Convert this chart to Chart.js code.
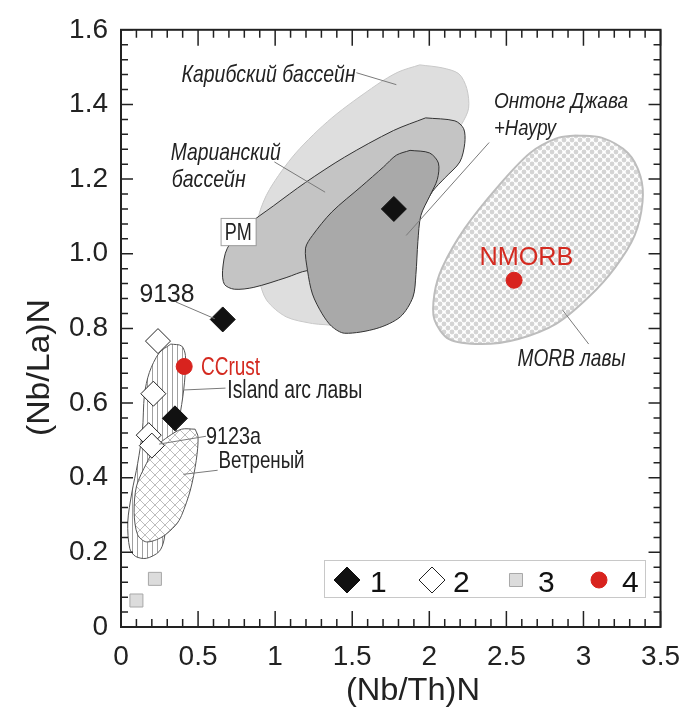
<!DOCTYPE html>
<html>
<head>
<meta charset="utf-8">
<script src="https://cdn.jsdelivr.net/npm/chart.js@4.4.1/dist/chart.umd.min.js"></script>
<style>
  html, body { margin: 0; padding: 0; background: #fff; }
  canvas { display: block; }
</style>
</head>
<body>
<canvas id="c" width="693" height="711"></canvas>
<script>
// ---------- DATA ----------
const xTickLabels = ['0', '0.5', '1', '1.5', '2', '2.5', '3', '3.5'];
const yTickLabels = ['0', '0.2', '0.4', '0.6', '0.8', '1.0', '1.2', '1.4', '1.6'];
const legendLabels = ['1', '2', '3', '4'];

// series 1 (filled diamonds)
const s1X = [0.66, 1.77, 0.35];
const s1Y = [0.824, 1.12, 0.559];
// series 2 (open diamonds)
const s2X = [0.24, 0.21, 0.18, 0.20];
const s2Y = [0.766, 0.625, 0.514, 0.486];
// series 3 (grey squares)
const s3X = [0.22, 0.10];
const s3Y = [0.129, 0.071];
// series 4 (red circles: CCrust, NMORB)
const s4X = [0.41, 2.55];
const s4Y = [0.698, 0.929];

// field outlines (traced)
const caribX = [1.938, 2.084, 2.192, 2.243, 2.255, 2.211, 2.097, 1.989, 1.907, 1.869, 1.818, 1.704, 1.527, 1.324, 1.242, 1.071, 0.944, 0.893, 0.868, 0.893, 0.963, 1.134, 1.368, 1.660, 1.799, 1.938];
const caribY = [1.506, 1.498, 1.482, 1.443, 1.390, 1.348, 1.277, 1.186, 1.094, 0.989, 0.897, 0.831, 0.803, 0.810, 0.813, 0.831, 0.876, 0.936, 1.015, 1.102, 1.172, 1.270, 1.364, 1.453, 1.487, 1.506];

const marX = [1.976, 2.166, 2.223, 2.230, 2.198, 2.103, 2.021, 1.894, 1.704, 1.451, 1.210, 1.071, 0.862, 0.735, 0.671, 0.659, 0.690, 0.817, 0.988, 1.197, 1.451, 1.767, 1.976];
const marY = [1.364, 1.356, 1.335, 1.296, 1.246, 1.204, 1.167, 1.081, 0.989, 0.957, 0.955, 0.936, 0.910, 0.905, 0.918, 0.955, 1.015, 1.075, 1.128, 1.191, 1.259, 1.330, 1.364];

const ontX = [1.875, 2.002, 2.059, 2.052, 2.002, 1.945, 1.926, 1.913, 1.894, 1.812, 1.660, 1.451, 1.368, 1.305, 1.242, 1.210, 1.197, 1.242, 1.368, 1.558, 1.704, 1.786, 1.875];
const ontY = [1.277, 1.270, 1.243, 1.199, 1.154, 1.102, 1.033, 0.944, 0.884, 0.831, 0.800, 0.787, 0.805, 0.839, 0.892, 0.955, 1.015, 1.049, 1.112, 1.180, 1.233, 1.264, 1.277];

const morbX = [2.952, 3.117, 3.288, 3.370, 3.383, 3.332, 3.205, 3.034, 2.825, 2.572, 2.338, 2.128, 2.033, 2.033, 2.084, 2.230, 2.445, 2.654, 2.825, 2.952];
const morbY = [1.317, 1.311, 1.270, 1.207, 1.138, 1.049, 0.963, 0.884, 0.813, 0.771, 0.758, 0.771, 0.824, 0.892, 0.963, 1.068, 1.180, 1.270, 1.309, 1.317];

const arcX = [0.323, 0.393, 0.418, 0.412, 0.386, 0.361, 0.342, 0.310, 0.279, 0.247, 0.165, 0.095, 0.057, 0.044, 0.070, 0.108, 0.139, 0.152, 0.184, 0.247, 0.323];
const arcY = [0.758, 0.753, 0.727, 0.656, 0.577, 0.535, 0.464, 0.333, 0.233, 0.202, 0.184, 0.189, 0.210, 0.281, 0.359, 0.438, 0.525, 0.622, 0.682, 0.734, 0.758];

const vetX = [0.481, 0.500, 0.488, 0.450, 0.393, 0.355, 0.266, 0.165, 0.108, 0.085, 0.101, 0.165, 0.228, 0.310, 0.393, 0.481];
const vetY = [0.530, 0.509, 0.446, 0.367, 0.299, 0.273, 0.241, 0.228, 0.247, 0.307, 0.378, 0.438, 0.483, 0.511, 0.530, 0.530];

// ---------- helpers ----------
const zip = (xs, ys) => xs.map((x, i) => ({ x, y: ys[i] }));
const FONT = "'Liberation Sans', Arial, sans-serif";

function makePattern(kind) {
  const c = document.createElement('canvas');
  const g = c.getContext('2d');
  if (kind === 'dots') {
    c.width = 8; c.height = 8;
    g.fillStyle = '#fff'; g.fillRect(0, 0, 8, 8);
    g.fillStyle = '#d4d4d4';
    [[0, 0], [8, 0], [0, 8], [8, 8], [4, 4]].forEach(([x, y]) => {
      g.beginPath(); g.arc(x, y, 2.4, 0, Math.PI * 2); g.fill();
    });
  } else if (kind === 'vlines') {
    c.width = 5; c.height = 5;
    g.fillStyle = '#fff'; g.fillRect(0, 0, 5, 5);
    g.fillStyle = '#a0a0a0'; g.fillRect(2, 0, 1, 5);
  } else {
    c.width = 10; c.height = 10;
    g.fillStyle = '#fff'; g.fillRect(0, 0, 10, 10);
    g.strokeStyle = '#bdbdbd'; g.lineWidth = 1;
    g.beginPath(); g.moveTo(0, 0); g.lineTo(10, 10); g.moveTo(10, 0); g.lineTo(0, 10); g.stroke();
  }
  return g.createPattern(c, 'repeat');
}

function field(label, xs, ys, bg, border, bw, order) {
  return {
    type: 'line', label, data: zip(xs, ys), order,
    backgroundColor: bg, borderColor: border, borderWidth: bw,
    fill: 'shape', tension: 0.3, pointRadius: 0, pointHoverRadius: 0
  };
}

const ann = [
  { t: 'Карибский бассейн', x: 0.393, y: 1.461, f: 'italic 24px', c: '#222', w: 174 },
  { t: 'Марианский', x: 0.323, y: 1.251, f: 'italic 24px', c: '#222', w: 110 },
  { t: 'бассейн', x: 0.329, y: 1.180, f: 'italic 24px', c: '#222', w: 74 },
  { t: 'Онтонг Джава', x: 2.420, y: 1.390, f: 'italic 22px', c: '#222', w: 134 },
  { t: '+Науру', x: 2.420, y: 1.319, f: 'italic 22px', c: '#222', w: 62 },
  { t: 'NMORB', x: 2.325, y: 0.970, f: '26px', c: '#d42a20', w: 94 },
  { t: 'MORB лавы', x: 2.572, y: 0.700, f: 'italic 24px', c: '#222', w: 108 },
  { t: '9138', x: 0.120, y: 0.871, f: '25px', c: '#222', w: 55 },
  { t: 'CCrust', x: 0.519, y: 0.674, f: '25px', c: '#d42a20', w: 59 },
  { t: 'Island arc лавы', x: 0.690, y: 0.614, f: '25px', c: '#222', w: 135 },
  { t: '9123a', x: 0.551, y: 0.490, f: '24px', c: '#222', w: 55 },
  { t: 'Ветреный', x: 0.633, y: 0.425, f: '24px', c: '#222', w: 86 }
];
const leaders = [
  [1.527, 1.485, 1.786, 1.453],
  [0.995, 1.246, 1.324, 1.165],
  [2.388, 1.298, 1.850, 1.049],
  [3.034, 0.758, 2.863, 0.850],
  [0.355, 0.871, 0.608, 0.826],
  [0.405, 0.635, 0.678, 0.640],
  [0.551, 0.511, 0.247, 0.490],
  [0.627, 0.420, 0.405, 0.409]
];
const pmBox = { t: 'PM', x0: 0.646, y0: 1.096, x1: 0.874, y1: 1.023 };

function fitText(ctx, text, x, y, font, color, width, align) {
  ctx.save();
  ctx.font = font + ' ' + FONT;
  const w = ctx.measureText(text).width;
  ctx.translate(x, y);
  ctx.scale(width / w, 1);
  ctx.fillStyle = color;
  ctx.textBaseline = 'alphabetic';
  ctx.textAlign = align || 'left';
  ctx.fillText(text, 0, 0);
  ctx.restore();
}

const decor = {
  id: 'decor',
  afterDatasetsDraw(chart) {
    const ctx = chart.ctx;
    const xs = chart.scales.x, ys = chart.scales.y;
    const a = chart.chartArea;
    const X = v => xs.getPixelForValue(v), Y = v => ys.getPixelForValue(v);

    // leader lines
    ctx.save();
    ctx.strokeStyle = '#7a7a7a'; ctx.lineWidth = 1;
    leaders.forEach(([x0, y0, x1, y1]) => {
      ctx.beginPath(); ctx.moveTo(X(x0), Y(y0)); ctx.lineTo(X(x1), Y(y1)); ctx.stroke();
    });
    ctx.restore();

    // annotations
    ann.forEach(o => fitText(ctx, o.t, X(o.x), Y(o.y), o.f, o.c, o.w));

    // PM box
    ctx.save();
    const bx0 = X(pmBox.x0), by0 = Y(pmBox.y0), bx1 = X(pmBox.x1), by1 = Y(pmBox.y1);
    ctx.fillStyle = '#fff'; ctx.fillRect(bx0, by0, bx1 - bx0, by1 - by0);
    ctx.strokeStyle = '#a0a0a0'; ctx.lineWidth = 1;
    ctx.strokeRect(bx0 + 0.5, by0 + 0.5, bx1 - bx0, by1 - by0);
    ctx.restore();
    fitText(ctx, pmBox.t, (bx0 + bx1) / 2, by1 - 5, '24px', '#222', 27, 'center');

    // frame + inward ticks on all four sides
    ctx.save();
    ctx.strokeStyle = '#222';
    ctx.lineWidth = 1.5;
    ctx.beginPath();
    for (let i = 0; i <= 35; i++) {
      const px = X(i / 10), len = i % 5 === 0 ? 16 : 8;
      ctx.moveTo(px, a.bottom); ctx.lineTo(px, a.bottom - len);
      ctx.moveTo(px, a.top); ctx.lineTo(px, a.top + len);
    }
    for (let i = 0; i <= 40; i++) {
      const py = Y(i * 0.04), len = i % 5 === 0 ? 12 : 7;
      ctx.moveTo(a.left, py); ctx.lineTo(a.left + len, py);
      ctx.moveTo(a.right, py); ctx.lineTo(a.right - len, py);
    }
    ctx.stroke();
    ctx.lineWidth = 2;
    ctx.strokeRect(a.left, a.top, a.right - a.left, a.bottom - a.top);
    ctx.restore();

    // legend (inside plot, lower right)
    const L = a.left + 203, T = a.bottom - 67, W = 321, H = 37;
    ctx.save();
    ctx.fillStyle = '#fff'; ctx.fillRect(L, T, W, H);
    ctx.strokeStyle = '#c8c8c8'; ctx.lineWidth = 1;
    ctx.strokeRect(L + 0.5, T + 0.5, W, H);
    ctx.restore();
    const marks = [23, 108, 192, 275];
    const texts = [46, 129, 214, 298];
    const ptDs = chart.data.datasets.filter(d => d.isSeries);
    ptDs.forEach((d, i) => {
      ctx.save();
      ctx.fillStyle = d.backgroundColor; ctx.strokeStyle = d.borderColor; ctx.lineWidth = d.borderWidth;
      Chart.helpers.drawPoint(ctx, { pointStyle: d.pointStyle, radius: d.legendRadius, borderWidth: d.borderWidth, rotation: 0 }, L + marks[i], T + 20);
      ctx.restore();
      ctx.save();
      ctx.font = '30px ' + FONT; ctx.fillStyle = '#111'; ctx.textBaseline = 'alphabetic';
      ctx.fillText(legendLabels[i], L + texts[i], T + 32);
      ctx.restore();
    });

    // axis titles
    fitText(ctx, '(Nb/Th)N', X(1.894), 700, '32px', '#222', 134, 'center');
    ctx.save();
    ctx.translate(49, Y(0.695));
    ctx.rotate(-Math.PI / 2);
    fitText(ctx, '(Nb/La)N', 0, 0, '32px', '#222', 137, 'center');
    ctx.restore();
  }
};

const ctx = document.getElementById('c').getContext('2d');

const datasets = [
  { type: 'scatter', label: legendLabels[0], isSeries: true, data: zip(s1X, s1Y), order: 0,
    pointStyle: 'rectRot', pointRadius: 12.5, legendRadius: 13, backgroundColor: '#111', borderColor: '#111', borderWidth: 1 },
  { type: 'scatter', label: legendLabels[1], isSeries: true, data: zip(s2X, s2Y), order: 1,
    pointStyle: 'rectRot', pointRadius: 12.5, legendRadius: 13, backgroundColor: '#fff', borderColor: '#222', borderWidth: 1 },
  { type: 'scatter', label: legendLabels[2], isSeries: true, data: zip(s3X, s3Y), order: 2,
    pointStyle: 'rect', pointRadius: 9.2, legendRadius: 9.2, backgroundColor: '#dcdcdc', borderColor: '#a8a8a8', borderWidth: 1 },
  { type: 'scatter', label: legendLabels[3], isSeries: true, data: zip(s4X, s4Y), order: 3,
    pointStyle: 'circle', pointRadius: 8, legendRadius: 8, backgroundColor: '#d8231e', borderColor: '#d8231e', borderWidth: 1 },
  field('Ветреный', vetX, vetY, makePattern('cross'), '#555', 1, 10),
  field('Island arc лавы', arcX, arcY, makePattern('vlines'), '#555', 1, 11),
  field('Онтонг Джава +Науру', ontX, ontY, '#a9a9a9', '#333', 1, 12),
  field('Марианский бассейн', marX, marY, '#c4c4c4', '#333', 1, 13),
  field('Карибский бассейн', caribX, caribY, '#dedede', '#c8c8c8', 1, 14),
  field('MORB лавы', morbX, morbY, makePattern('dots'), '#bdbdbd', 2, 15)
];

new Chart(ctx, {
  type: 'scatter',
  data: { datasets },
  options: {
    responsive: false,
    animation: false,
    events: [],
    layout: { padding: { top: 17, right: 20, left: 0, bottom: 0 } },
    plugins: { legend: { display: false }, tooltip: { enabled: false } },
    scales: {
      x: {
        type: 'linear', min: 0, max: 3.5,
        grid: { display: false, drawTicks: false },
        border: { display: false },
        ticks: {
          stepSize: 0.5, autoSkip: false, maxRotation: 0, padding: 13,
          color: '#222', font: { size: 28, family: FONT },
          callback: (v) => xTickLabels[Math.round(v / 0.5)]
        },
        afterFit: s => { s.height = 84; }
      },
      y: {
        type: 'linear', min: 0, max: 1.6,
        grid: { display: false, drawTicks: false },
        border: { display: false },
        ticks: {
          stepSize: 0.2, autoSkip: false, padding: 13,
          color: '#222', font: { size: 28, family: FONT },
          callback: (v) => yTickLabels[Math.round(v / 0.2)]
        },
        afterFit: s => { s.width = 121; }
      }
    }
  },
  plugins: [decor]
});
</script>
</body>
</html>
